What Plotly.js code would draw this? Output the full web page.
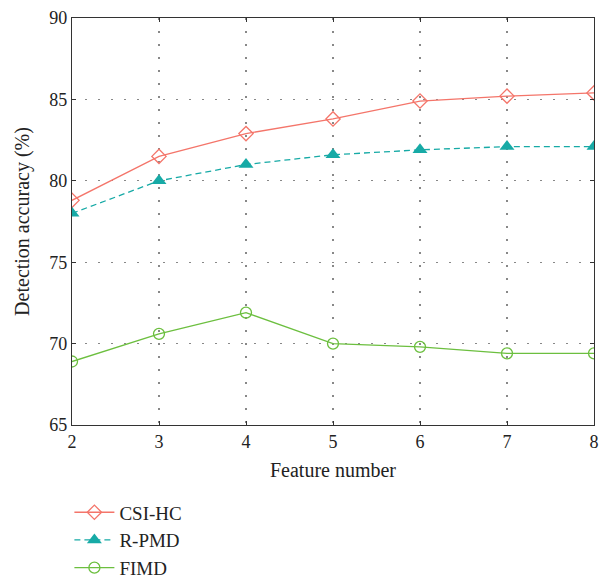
<!DOCTYPE html>
<html>
<head>
<meta charset="utf-8">
<script src="https://cdn.plot.ly/plotly-3.0.1.min.js"></script>
<style>html,body{margin:0;padding:0;background:#fff;}#chart{width:607px;height:582px;}</style>
</head>
<body>
<div id="chart"></div>
<script>
var featureNumbers = [2, 3, 4, 5, 6, 7, 8];
var csiHC = [78.8, 81.5, 82.9, 83.8, 84.9, 85.2, 85.4];
var rPMD = [78.0, 80.0, 81.0, 81.6, 81.9, 82.1, 82.1];
var fIMD = [68.9, 70.6, 71.9, 70.0, 69.8, 69.4, 69.4];
var seriesNames = ["CSI-HC", "R-PMD", "FIMD"];

var traces = [
  {x: featureNumbers, y: csiHC, name: seriesNames[0], mode: "lines+markers",
   line: {color: "#f4756a", width: 1.3},
   marker: {symbol: "diamond-open", size: 11, color: "#f4756a", line: {width: 1.3}}},
  {x: featureNumbers, y: rPMD, name: seriesNames[1], mode: "lines+markers",
   line: {color: "#17aaa6", width: 1.3, dash: "6px,4px"},
   marker: {symbol: "triangle-up", size: 13, color: "#17aaa6"}},
  {x: featureNumbers, y: fIMD, name: seriesNames[2], mode: "lines+markers",
   line: {color: "#6cbf3f", width: 1.3},
   marker: {symbol: "circle-open", size: 11, color: "#6cbf3f", line: {width: 1.3}}}
];

var axisCommon = {
  showline: true, linecolor: "#333", linewidth: 1.2, mirror: "ticks",
  ticks: "inside", ticklen: 4, tickcolor: "#333",
  showgrid: true, gridcolor: "#888", griddash: "1.5px,11.5px", gridwidth: 1.2,
  zeroline: false,
  tickfont: {family: "Liberation Serif, serif", size: 18, color: "#222"}
};

var layout = {
  width: 607, height: 582,
  margin: {l: 72, r: 13, t: 18, b: 157, autoexpand: false},
  paper_bgcolor: "#fff", plot_bgcolor: "#fff",
  font: {family: "Liberation Serif, serif", color: "#222"},
  xaxis: Object.assign({}, axisCommon, {
    range: [2, 8], dtick: 1, tick0: 2,
    title: {text: "Feature number", font: {family: "Liberation Serif, serif", size: 20, color: "#222"}, standoff: 12}
  }),
  yaxis: Object.assign({}, axisCommon, {
    range: [65, 90], dtick: 5,
    title: {text: "Detection accuracy (%)", font: {family: "Liberation Serif, serif", size: 20, color: "#222"}, standoff: 14}
  }),
  showlegend: true,
  legend: {
    x: -0.005, xanchor: "left", y: -0.168, yanchor: "top",
    font: {family: "Liberation Serif, serif", size: 19, color: "#222"},
    bgcolor: "rgba(0,0,0,0)", itemwidth: 40, tracegroupgap: 0
  }
};

Plotly.newPlot("chart", traces, layout, {staticPlot: true, displayModeBar: false});
</script>
</body>
</html>
